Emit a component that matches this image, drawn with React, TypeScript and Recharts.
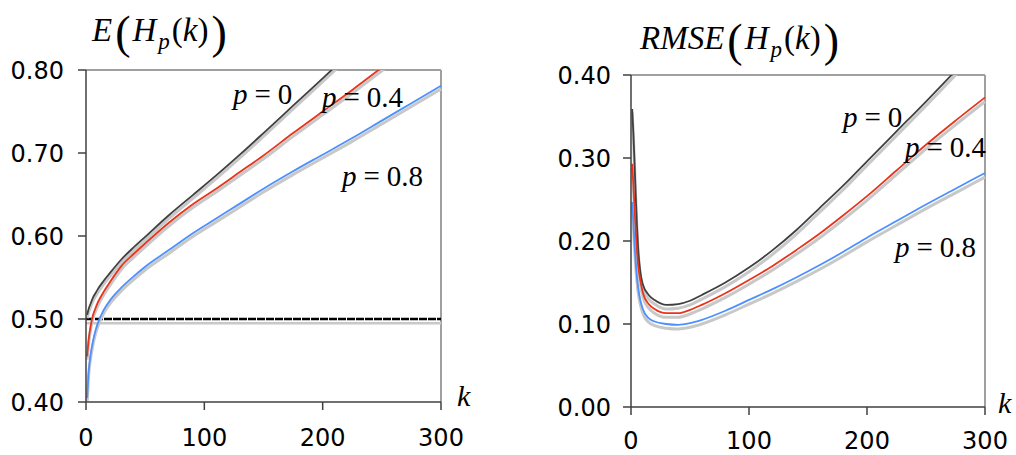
import { LineChart, Line, XAxis, YAxis, ReferenceLine } from "recharts";

// k values used for the E(H_p(k)) panel
const K_E = [1, 2, 4, 6, 8, 10, 15, 20, 30, 40, 50, 70, 90, 110, 130, 150, 175, 200, 225, 250, 275, 300];
const E_P0 = [0.505, 0.511, 0.519, 0.526, 0.531, 0.536, 0.546, 0.555, 0.572, 0.586, 0.599, 0.625, 0.649, 0.673, 0.698, 0.724, 0.757, 0.79, 0.823, 0.856, 0.889, 0.922];
const E_P04 = [0.455, 0.472, 0.492, 0.505, 0.513, 0.52, 0.533, 0.544, 0.564, 0.578, 0.591, 0.616, 0.638, 0.657, 0.677, 0.697, 0.724, 0.75, 0.776, 0.803, 0.83, 0.857];
const E_P08 = [0.405, 0.432, 0.458, 0.474, 0.486, 0.495, 0.511, 0.522, 0.538, 0.551, 0.563, 0.583, 0.603, 0.621, 0.639, 0.657, 0.678, 0.698, 0.718, 0.739, 0.76, 0.781];
// light grey companion curves (theoretical)
const E_P0_GREY = [0.501, 0.507, 0.515, 0.522, 0.527, 0.532, 0.542, 0.551, 0.568, 0.582, 0.595, 0.621, 0.645, 0.669, 0.694, 0.72, 0.753, 0.786, 0.819, 0.852, 0.885, 0.918];
const E_P04_GREY = [0.451, 0.468, 0.488, 0.501, 0.509, 0.516, 0.529, 0.54, 0.56, 0.574, 0.587, 0.612, 0.634, 0.653, 0.673, 0.693, 0.72, 0.746, 0.772, 0.799, 0.826, 0.853];
const E_P08_GREY = [0.401, 0.428, 0.454, 0.47, 0.482, 0.491, 0.507, 0.518, 0.534, 0.547, 0.559, 0.579, 0.599, 0.617, 0.635, 0.653, 0.674, 0.694, 0.714, 0.735, 0.756, 0.777];

// k values used for the RMSE panel
const K_R = [1, 2, 3, 4, 5, 6, 8, 10, 15, 20, 30, 40, 50, 60, 80, 100, 120, 140, 160, 180, 200, 225, 250, 275, 300];
const R_P0 = [0.359, 0.33, 0.294, 0.255, 0.22, 0.192, 0.162, 0.148, 0.135, 0.129, 0.123, 0.124, 0.128, 0.135, 0.15, 0.168, 0.189, 0.213, 0.24, 0.267, 0.296, 0.332, 0.368, 0.405, 0.442];
const R_P04 = [0.293, 0.268, 0.241, 0.212, 0.19, 0.172, 0.152, 0.138, 0.124, 0.118, 0.113, 0.113, 0.117, 0.123, 0.137, 0.153, 0.17, 0.189, 0.209, 0.231, 0.254, 0.285, 0.316, 0.345, 0.373];
const R_P08 = [0.247, 0.222, 0.196, 0.174, 0.157, 0.144, 0.128, 0.118, 0.107, 0.103, 0.1, 0.099, 0.101, 0.105, 0.116, 0.129, 0.142, 0.156, 0.171, 0.187, 0.204, 0.224, 0.244, 0.263, 0.282];
const R_P0_GREY = [0.355, 0.326, 0.29, 0.251, 0.216, 0.188, 0.157, 0.143, 0.13, 0.124, 0.118, 0.119, 0.123, 0.13, 0.145, 0.163, 0.184, 0.208, 0.235, 0.262, 0.291, 0.327, 0.363, 0.4, 0.437];
const R_P04_GREY = [0.288, 0.263, 0.236, 0.207, 0.185, 0.167, 0.147, 0.133, 0.119, 0.113, 0.108, 0.108, 0.112, 0.118, 0.132, 0.148, 0.165, 0.184, 0.204, 0.226, 0.249, 0.28, 0.311, 0.34, 0.368];
const R_P08_GREY = [0.242, 0.217, 0.191, 0.169, 0.152, 0.139, 0.123, 0.113, 0.102, 0.098, 0.095, 0.094, 0.096, 0.1, 0.111, 0.124, 0.137, 0.151, 0.166, 0.182, 0.199, 0.219, 0.239, 0.258, 0.277];

const K_TICKS = [0, 100, 200, 300];
const E_TICKS = [0.4, 0.5, 0.6, 0.7, 0.8];
const R_TICKS = [0, 0.1, 0.2, 0.3, 0.4];

const eData = K_E.map((k, i) => ({
  k,
  p0: E_P0[i],
  p04: E_P04[i],
  p08: E_P08[i],
  g0: E_P0_GREY[i],
  g04: E_P04_GREY[i],
  g08: E_P08_GREY[i],
}));

const rData = K_R.map((k, i) => ({
  k,
  p0: R_P0[i],
  p04: R_P04[i],
  p08: R_P08[i],
  g0: R_P0_GREY[i],
  g04: R_P04_GREY[i],
  g08: R_P08_GREY[i],
}));

const AXIS = "#404040";
const BORDER = "#a0a0a0";
const GREY = "#c8c8c8";
const SERIES = [
  { key: "p0", grey: "g0", color: "#404040" },
  { key: "p04", grey: "g04", color: "#e8341c" },
  { key: "p08", grey: "g08", color: "#4d90ff" },
];

const tickStyle = { fill: "#000", fontSize: 24, fontFamily: "DejaVu Sans" };
const serif = '"Liberation Serif", "Times New Roman", serif';

function Curves() {
  return [
    ...SERIES.map((s) => (
      <Line
        key={s.grey}
        type="monotone"
        dataKey={s.grey}
        stroke={GREY}
        strokeWidth={3}
        dot={false}
        activeDot={false}
        isAnimationActive={false}
      />
    )),
    ...SERIES.map((s) => (
      <Line
        key={s.key}
        type="monotone"
        dataKey={s.key}
        stroke={s.color}
        strokeWidth={1.8}
        dot={false}
        activeDot={false}
        isAnimationActive={false}
      />
    )),
  ];
}

function PLabel({ x, y, value }: { x: number; y: number; value: string }) {
  return (
    <text x={x} y={y} fontFamily={serif} fontSize={29} fill="#000">
      <tspan fontStyle="italic">p</tspan>
      <tspan dx={7}>=</tspan>
      <tspan dx={7}>{value}</tspan>
    </text>
  );
}

function Title({ x, y, lead }: { x: number; y: number; lead: string }) {
  return (
    <text x={x} y={y} fontFamily={serif} fontSize={33} fill="#000">
      <tspan fontStyle="italic">{lead}</tspan>
      <tspan dx={3} fontSize={46} dy={7}>(</tspan>
      <tspan dx={2} dy={-7} fontStyle="italic">H</tspan>
      <tspan dx={2} dy={8} fontSize={23} fontStyle="italic">p</tspan>
      <tspan dx={2} dy={-8}>(</tspan>
      <tspan fontStyle="italic">k</tspan>
      <tspan>)</tspan>
      <tspan dx={3} fontSize={46} dy={7}>)</tspan>
    </text>
  );
}

export default function App() {
  return (
    <div style={{ position: "absolute", left: 0, top: 0, width: 1016, height: 455, background: "#fff" }}>
      <div style={{ position: "absolute", left: 0, top: 0 }}>
        <LineChart width={480} height={455} data={eData} margin={{ top: 70, right: 39, bottom: 0, left: 0 }}>
          <XAxis
            dataKey="k"
            type="number"
            domain={[0, 300]}
            ticks={K_TICKS}
            height={53}
            tickSize={8}
            tickMargin={19}
            tick={tickStyle}
            axisLine={{ stroke: AXIS, strokeWidth: 1.5 }}
            tickLine={{ stroke: AXIS, strokeWidth: 1.5 }}
          />
          <YAxis
            type="number"
            domain={[0.4, 0.8]}
            ticks={E_TICKS}
            allowDataOverflow
            width={86}
            tickSize={8}
            tickMargin={14}
            tick={tickStyle}
            tickFormatter={(v) => Number(v).toFixed(2)}
            axisLine={{ stroke: AXIS, strokeWidth: 1.5 }}
            tickLine={{ stroke: AXIS, strokeWidth: 1.5 }}
          />
          <ReferenceLine y={0.8} stroke={BORDER} strokeWidth={2} />
          <ReferenceLine x={300} stroke={BORDER} strokeWidth={2} />
          <ReferenceLine y={0.495} stroke={GREY} strokeWidth={2.5} />
          <ReferenceLine y={0.5} stroke="#000" strokeWidth={2.5} strokeDasharray="8 1" />
          {Curves()}
        </LineChart>
      </div>
      <div style={{ position: "absolute", left: 540, top: 0 }}>
        <LineChart width={476} height={455} data={rData} margin={{ top: 75, right: 31, bottom: 0, left: 0 }}>
          <XAxis
            dataKey="k"
            type="number"
            domain={[0, 300]}
            ticks={K_TICKS}
            height={48}
            tickSize={8}
            tickMargin={17}
            tick={tickStyle}
            axisLine={{ stroke: AXIS, strokeWidth: 1.5 }}
            tickLine={{ stroke: AXIS, strokeWidth: 1.5 }}
          />
          <YAxis
            type="number"
            domain={[0, 0.4]}
            ticks={R_TICKS}
            allowDataOverflow
            width={91}
            tickSize={8}
            tickMargin={12}
            tick={tickStyle}
            tickFormatter={(v) => Number(v).toFixed(2)}
            axisLine={{ stroke: AXIS, strokeWidth: 1.5 }}
            tickLine={{ stroke: AXIS, strokeWidth: 1.5 }}
          />
          <ReferenceLine y={0.4} stroke={BORDER} strokeWidth={2} />
          <ReferenceLine x={300} stroke={BORDER} strokeWidth={2} />
          {Curves()}
        </LineChart>
      </div>
      <svg width={1016} height={455} style={{ position: "absolute", left: 0, top: 0, pointerEvents: "none" }}>
        <Title x={92} y={41} lead="E" />
        <Title x={640} y={49} lead="RMSE" />
        <PLabel x={233} y={104} value="0" />
        <PLabel x={322} y={107} value="0.4" />
        <PLabel x={342} y={186} value="0.8" />
        <PLabel x={843} y={127} value="0" />
        <PLabel x={905} y={157} value="0.4" />
        <PLabel x={895} y={257} value="0.8" />
        <text x={457} y={406} fontFamily={serif} fontSize={30} fontStyle="italic">k</text>
        <text x={998} y={413} fontFamily={serif} fontSize={30} fontStyle="italic">k</text>
      </svg>
    </div>
  );
}
